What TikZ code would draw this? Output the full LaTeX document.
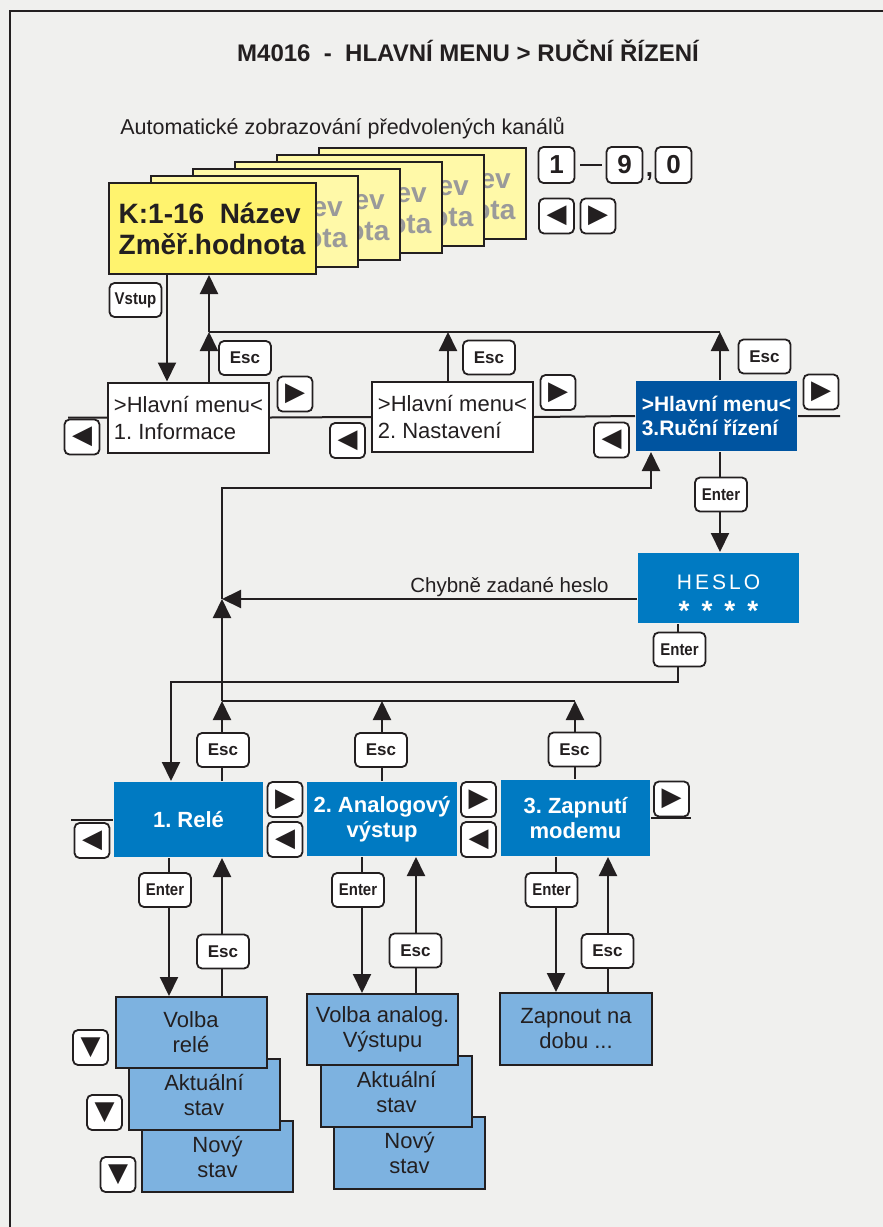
\documentclass[tikz,border=0pt]{standalone}
\usepackage{fontspec}
\setmainfont{Liberation Sans}
\newfontfamily\symfont{DejaVu Sans}
\newfontfamily\narrowfont[FakeStretch=0.88]{Liberation Sans}
\usetikzlibrary{arrows.meta}
\frenchspacing
\definecolor{pagebg}{HTML}{F0F0EE}
\definecolor{ink}{HTML}{231F20}
\definecolor{frontyellow}{HTML}{FFF36E}
\definecolor{backyellow}{HTML}{FFF9A8}
\definecolor{cardgray}{HTML}{9A9A9A}
\definecolor{navyblue}{HTML}{0054A0}
\definecolor{midblue}{HTML}{007AC2}
\definecolor{paleblue}{HTML}{7DB2E0}

\begin{document}
\begin{tikzpicture}[x=1pt, y=-1pt, line width=2pt, draw=ink,
    arr/.style={-{Triangle[length=19pt,width=18pt]}},
    key/.style={draw=ink, fill=white, rounded corners=5pt, line width=1.8pt, inner sep=0pt,
        minimum width=52pt, minimum height=34pt, text=ink, font=\bfseries\fontsize{17}{17}\selectfont},
    narrowkey/.style={key, font=\narrowfont\bfseries\fontsize{17}{17}\selectfont},
    arrowkey/.style={key, minimum width=35pt, minimum height=35pt, font=\symfont\fontsize{26}{26}\selectfont},
    digitkey/.style={key, minimum width=36pt, minimum height=36pt, font=\bfseries\fontsize{26}{26}\selectfont},
    card/.style={draw=ink, line width=2pt, minimum width=207pt, minimum height=91pt, inner sep=0pt,
        align=left, font=\bfseries\fontsize{28}{31}\selectfont},
    menubox/.style={draw=ink, fill=white, line width=2pt, minimum width=161pt, minimum height=70pt,
        inner sep=0pt, align=left, text=ink, font=\fontsize{22}{27}\selectfont},
    bluebox/.style={fill=midblue, minimum width=149pt, minimum height=75pt, inner sep=0pt,
        align=center, text=white, font=\bfseries\fontsize{22}{25}\selectfont},
    subbox/.style={draw=ink, fill=paleblue, line width=2pt, minimum width=151pt, minimum height=71pt,
        inner sep=0pt, align=center, text=ink, font=\fontsize{22}{25}\selectfont}]

            \useasboundingbox (0,0) rectangle (883,1227);
            \fill[pagebg] (0,0) rectangle (883,1227);
            \draw[ink] (10,1227) -- (10,11) -- (883,11);

            \node[anchor=base, text=ink, font=\bfseries\fontsize{24}{24}\selectfont] (title) at (468,61)
                {M4016~~-~~HLAVNÍ MENU > RUČNÍ ŘÍZENÍ};
            \node[anchor=base west, text=ink, font=\fontsize{21.5}{21.5}\selectfont] (auto) at (116,134)
                {Automatické zobrazování předvolených kanálů};

            % stacked channel displays
            \foreach \i in {5,4,3,2,1}
                \node[card, fill=backyellow, text=cardgray] (card\i) at (212+42*\i, 228.5-7*\i)
                    {K:1-16~~Název\\Změř.hodnota};
            \node[card, fill=frontyellow, text=ink] (card0) at (212,228.5) {K:1-16~~Název\\Změř.hodnota};

            % main menu
            \node[menubox] (menuA) at (188.5,417.5) {>Hlavní menu<\\1. Informace};
            \node[menubox] (menuB) at (452.5,417) {>Hlavní menu<\\2. Nastavení};
            \node[menubox, draw=none, fill=navyblue, text=white, font=\bfseries\fontsize{21}{24}\selectfont]
                (menuC) at (716.5,416) {>Hlavní menu<\\3.Ruční řízení};
            \node[bluebox, minimum width=161pt, minimum height=70pt, font=\fontsize{21}{25}\selectfont]
                (heslo) at (718.5,588) {\rule{0pt}{33pt}H\kern3pt E\kern3pt S\kern3pt L\kern3pt O\\[6pt]
                {\bfseries\fontsize{28}{28}\selectfont *\hspace{12pt}*\hspace{12pt}*\hspace{12pt}*}};

            % manual control
            \node[bluebox] (rele) at (188.5,819.5) {1. Relé};
            \node[bluebox, minimum width=150pt, minimum height=74pt] (analog) at (382,819) {2. Analogový\\výstup};
            \node[bluebox, minimum height=76pt] (modem) at (575.5,818) {3. Zapnutí\\modemu};

            \node[subbox] (novyR) at (217.5,1156.5) {Nový\\stav};
            \node[subbox] (aktR) at (204,1094.5) {Aktuální\\stav};
            \node[subbox] (volbaR) at (191,1032.5) {Volba\\relé};
            \node[subbox, minimum height=72pt] (novyA) at (409.5,1153) {Nový\\stav};
            \node[subbox] (aktA) at (396.5,1091.5) {Aktuální\\stav};
            \node[subbox] (volbaA) at (382.5,1029.5) {Volba analog.\\Výstupu};
            \node[subbox, minimum width=152pt, minimum height=72pt] (zapnout) at (576,1029) {Zapnout na\\dobu ...};

            \coordinate (vx) at (167,0);
            \coordinate (ax) at (209,0);
            \coordinate (bx) at (448,0);
            \coordinate (cx) at (720,0);
            \coordinate (ux) at (651,0);
            \coordinate (hx) at (678,0);
            \coordinate (rx) at (171,0);
            \coordinate (backx) at (222,0);
            \coordinate (anx) at (382,0);
            \coordinate (mox) at (575,0);
            \coordinate (r1x) at (169,0);
            \coordinate (a1x) at (362,0);
            \coordinate (a2x) at (416,0);
            \coordinate (m1x) at (556,0);
            \coordinate (m2x) at (608,0);
            \coordinate (stubA) at (68,0);
            \coordinate (stubC) at (840,0);
            \coordinate (stubR) at (71,0);
            \coordinate (stubM) at (691,0);
            \coordinate (jtop) at (0,332);
            \coordinate (jret) at (0,488);
            \coordinate (wy) at (0,599);
            \coordinate (jent) at (0,682);
            \coordinate (jlow) at (0,701);

            \draw[arr] (vx |- card0.south) -- (vx |- menuA.north);
            \draw[arr] (ax |- menuA.north) -- (ax |- jtop);
            \draw[arr] (ax |- jtop) -- (ax |- card0.south);
            \draw (ax |- jtop) -- (cx |- jtop);
            \draw[arr] (bx |- menuB.north) -- (bx |- jtop);
            \draw[arr] (cx |- menuC.north) -- (cx |- jtop);
            \draw (stubA |- menuA.west) -- (menuA.west) (menuA.east) -- (menuB.west)
                (menuB.east) -- (menuC.west) (menuC.east) -- (stubC |- menuC.east);

            \draw[arr] (cx |- menuC.south) -- (cx |- heslo.north);
            \draw[arr] (heslo.west |- wy) -- (backx |- wy);
            \node[anchor=base east, text=ink, font=\fontsize{20.5}{20.5}\selectfont] (wrong) at (613,592)
                {Chybně zadané heslo};
            \draw[arr] (backx |- jlow) -- (backx |- wy);
            \draw[arr] (backx |- wy) -- (backx |- jret) -- (ux |- jret) -- (ux |- menuC.south);
            \draw[arr] (hx |- heslo.south) -- (hx |- jent) -- (rx |- jent) -- (rx |- rele.north);

            \draw (backx |- jlow) -- (mox |- jlow);
            \draw[arr] (backx |- rele.north) -- (backx |- jlow);
            \draw[arr] (anx |- analog.north) -- (anx |- jlow);
            \draw[arr] (mox |- modem.north) -- (mox |- jlow);
            \draw (stubR |- rele.west) -- (rele.west) (modem.east) -- (stubM |- modem.east);

            \draw[arr] (r1x |- rele.south) -- (r1x |- volbaR.north);
            \draw[arr] (backx |- volbaR.north) -- (backx |- rele.south);
            \draw[arr] (a1x |- analog.south) -- (a1x |- volbaA.north);
            \draw[arr] (a2x |- volbaA.north) -- (a2x |- analog.south);
            \draw[arr] (m1x |- modem.south) -- (m1x |- zapnout.north);
            \draw[arr] (m2x |- zapnout.north) -- (m2x |- modem.south);

            % keys
            \node[digitkey] (k1) at (556.5,165) {1};
            \node[digitkey] (k9) at (624.5,165) {9};
            \node[digitkey] (k0) at (673.5,165) {0};
            \draw[shorten <=5pt, shorten >=4pt] (k1) -- (k9);
            \node[anchor=base, text=ink, font=\bfseries\fontsize{26}{26}\selectfont] (comma) at (649.5,176) {,};
            \node[arrowkey] (kleft) at (556.5,216) {◀};
            \node[arrowkey] (kright) at (598,216) {▶};

            \node[narrowkey] (vstup) at (135.5,300) {Vstup};
            \node[key] (escA) at (245,358) {Esc};
            \node[key] (escB) at (489,357.5) {Esc};
            \node[key] (escC) at (764.5,356.5) {Esc};
            \node[arrowkey] (rightA) at (295,394) {▶};
            \node[arrowkey] (rightB) at (558,392.5) {▶};
            \node[arrowkey] (rightC) at (821,392) {▶};
            \node[arrowkey] (leftA) at (82,437) {◀};
            \node[arrowkey] (leftB) at (347.5,440.5) {◀};
            \node[arrowkey] (leftC) at (611.5,440) {◀};

            \node[narrowkey] (enterC) at (721,494.5) {Enter};
            \node[narrowkey] (enterH) at (679.5,649.5) {Enter};

            \node[key] (escR) at (223,750) {Esc};
            \node[key] (escAn) at (381,750) {Esc};
            \node[key] (escM) at (574.5,749.5) {Esc};
            \node[arrowkey] (leftR) at (92,840.5) {◀};
            \node[arrowkey] (rightR) at (285,799.5) {▶};
            \node[arrowkey] (leftAn) at (285,839.5) {◀};
            \node[arrowkey] (rightAn) at (478.5,799.5) {▶};
            \node[arrowkey] (leftM) at (478.5,839.5) {◀};
            \node[arrowkey] (rightM) at (671.5,799) {▶};

            \node[narrowkey] (enterR) at (165,890) {Enter};
            \node[narrowkey] (enterAn) at (358,890) {Enter};
            \node[narrowkey] (enterM) at (551.5,890) {Enter};
            \node[key] (escR2) at (223,951.5) {Esc};
            \node[key] (escAn2) at (415.5,950.5) {Esc};
            \node[key] (escM2) at (607.5,951) {Esc};

            \node[arrowkey] (down1) at (90.5,1047.5) {▼};
            \node[arrowkey] (down2) at (104.5,1112.5) {▼};
            \node[arrowkey] (down3) at (118,1174.5) {▼};
\end{tikzpicture}
\end{document}
